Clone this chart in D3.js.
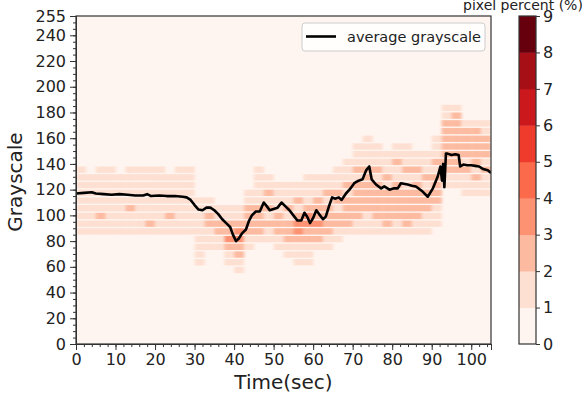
<!DOCTYPE html>
<html lang="en">
<head>
<meta charset="utf-8">
<title>Average grayscale over time</title>
<script src="https://d3js.org/d3.v7.min.js"></script>
<style>
  body { margin: 0; background: #fff; }
  svg text { font-family: "DejaVu Sans", sans-serif; fill: #222; }
  .axis path, .axis line { stroke: #333; }
  .axis text { font-size: 16px; }
</style>
</head>
<body>
<svg width="582" height="394" id="chart"></svg>
<script>

// black line: average grayscale of the frame at each time (sec)
var lineTime = [0,2,4,5,7,9,11,13,15,17,18,19,21,23,25,27,28,29,30,31,32,33,34,35,36,37,38,39,39.7,40.5,41.2,42,43,43.8,44.5,45.5,46.5,47.5,48.3,49,50,51,52,53,54,55,56,57,57.8,58.5,59.2,60,60.8,61.5,62.5,63.2,64,64.8,65.5,66.5,67.2,68.3,69.2,70.4,71.5,72.5,73.4,74.2,74.8,75.9,77.2,78,79.3,80.5,81.4,82.2,83.9,85,86,87.7,89,90.3,91.5,92.2,92.6,92.9,93.2,93.6,94,95,96,96.8,97.2,98,99,100,101,102,103,104.2,105];
var lineGray = [117,117.5,118,117,116.5,116,116.5,116,115.5,115.5,116.5,115,115.5,115,115,114.5,114,112,108,104.5,104,106,106,104,101,97,94,91,85,80,82,86,89,96,100,103,103,110,107,104,105,106,110,107,104,100,96,96,102,99,94,98,104,101,97,99,107,114,113,114,112,117,120,125,127,128,135,138,128,124,121,122.5,120,121,121,125,124,123,122.5,118.5,114.5,121,130,138,127,140,122,148,148,147,147.5,147,138,139.5,139,139,138.5,138,136,135,133];

// heatmap: one string per 2.5 s time bin, one digit per 6-level gray bin
// (top bin first), digit = pixel percent level (0..8)
var binSec = 2.5;
var grayBins = [180,174,168,162,156,150,144,138,132,126,120,114,108,102,96,90,84,78,72,66,60,54];
var heatCols = [
  "0000000011111111100000",
  "0000000001111111100000",
  "0000000011111121100000",
  "0000000011111111100000",
  "0000000001111111100000",
  "0000000011111211100000",
  "0000000011111111100000",
  "0000000011111112100000",
  "0000000011111111100000",
  "0000000001111121100000",
  "0000000011111111100000",
  "0000000011111111100000",
  "0000000000001111111110",
  "0000000000001122111000",
  "0000000000000112211000",
  "0000000000000112232110",
  "0000000000000112332211",
  "0000000000011222211000",
  "0000000011111222210000",
  "0000000001121212110000",
  "0000000000111122211000",
  "0000000000111212221100",
  "0000000000112123321110",
  "0000000001111233221110",
  "0000000001112223221000",
  "0000000001121222211000",
  "0000000011122122110000",
  "0000000111212222100000",
  "0000011121222221100000",
  "0000111122222211100000",
  "0000011121222221100000",
  "0000001112122222100000",
  "0000011211222221100000",
  "0000011121122222100000",
  "0000001121222221100000",
  "0000001112122211100000",
  "0000111212222111000000",
  "1122222221100000000000",
  "1222222221100000000000",
  "0012222121110000000000",
  "0012222212110000000000",
  "0011222121110000000000"
];

var xTicks = [0,10,20,30,40,50,60,70,80,90,100];
var yTicks = [0,20,40,60,80,100,120,140,160,180,200,220,240,255];
var cbarTicks = [0,1,2,3,4,5,6,7,8,9];

var svg = d3.select("svg#chart");

var x = d3.scaleLinear().domain([0, 105]).range([76, 491]);
var y = d3.scaleLinear().domain([0, 255]).range([344, 16]);
var color = d3.scaleOrdinal().domain(d3.range(9)).range(d3.schemeReds[9]);

svg.append("rect").attr("width", 582).attr("height", 394).attr("fill", "#fff");

svg.append("clipPath").attr("id", "plotclip")
  .append("rect")
    .attr("x", x(0)).attr("y", y(255))
    .attr("width", x(105) - x(0)).attr("height", y(0) - y(255));

svg.append("filter").attr("id", "soft")
  .append("feGaussianBlur").attr("stdDeviation", "1.4 0.3");

// background = lowest level
svg.append("rect")
  .attr("x", x(0)).attr("y", y(255))
  .attr("width", x(105) - x(0)).attr("height", y(0) - y(255))
  .attr("fill", color(0));

var cells = [];
heatCols.forEach(function(col, i) {
  col.split("").forEach(function(ch, j) {
    var lv = +ch;
    if (lv > 0) cells.push({ t: i * binSec, g: grayBins[j], lv: lv });
  });
});

svg.append("g")
    .attr("clip-path", "url(#plotclip)")
  .append("g")
    .attr("filter", "url(#soft)")
  .selectAll("rect")
  .data(cells)
  .enter().append("rect")
    .attr("x", function(d) { return x(d.t); })
    .attr("width", function(d) { return x(d.t + binSec) - x(d.t) + 0.3; })
    .attr("y", function(d) { return y(d.g + 6); })
    .attr("height", function(d) { return y(d.g) - y(d.g + 6) - 1.4; })
    .attr("fill", function(d) { return color(d.lv); });

var line = d3.line()
    .x(function(d, i) { return x(lineTime[i]); })
    .y(function(d) { return y(d); });

svg.append("path")
    .attr("clip-path", "url(#plotclip)")
    .attr("d", line(lineGray))
    .attr("fill", "none")
    .attr("stroke", "#000")
    .attr("stroke-width", 2.6)
    .attr("stroke-linejoin", "round");

// axes, with minor ticks
svg.append("g").attr("class", "axis")
    .attr("transform", "translate(0," + y(0) + ")")
    .call(d3.axisBottom(x).tickValues(d3.range(0, 105.1, 2)).tickSize(3).tickFormat(""));
svg.append("g").attr("class", "axis")
    .attr("transform", "translate(0," + y(0) + ")")
    .call(d3.axisBottom(x).tickValues(xTicks).tickSize(6).tickPadding(4));
svg.append("g").attr("class", "axis")
    .attr("transform", "translate(" + x(0) + ",0)")
    .call(d3.axisLeft(y).tickValues(d3.range(0, 256, 5)).tickSize(3).tickFormat(""));
svg.append("g").attr("class", "axis")
    .attr("transform", "translate(" + x(0) + ",0)")
    .call(d3.axisLeft(y).tickValues(yTicks).tickSize(6).tickPadding(4));

svg.append("rect")
  .attr("x", x(0)).attr("y", y(255))
  .attr("width", x(105) - x(0)).attr("height", y(0) - y(255))
  .attr("fill", "none").attr("stroke", "#333").attr("stroke-width", 1.2);

svg.append("text")
  .attr("x", (x(0) + x(105)) / 2).attr("y", 389)
  .attr("text-anchor", "middle").style("font-size", "20px")
  .text("Time(sec)");

svg.append("text")
  .attr("transform", "translate(22," + ((y(0) + y(255)) / 2 + 2) + ") rotate(-90)")
  .attr("text-anchor", "middle").style("font-size", "20px")
  .text("Grayscale");

// legend
var legend = svg.append("g");
legend.append("rect")
  .attr("x", 302).attr("y", 23).attr("width", 183).attr("height", 28).attr("rx", 3)
  .attr("fill", "#fff").attr("fill-opacity", 0.85).attr("stroke", "#ccc");
legend.append("line")
  .attr("x1", 306).attr("x2", 336).attr("y1", 36.5).attr("y2", 36.5)
  .attr("stroke", "#000").attr("stroke-width", 2.6);
legend.append("text")
  .attr("x", 347).attr("y", 41.5).style("font-size", "14.5px")
  .text("average grayscale");

// colorbar
var cy = d3.scaleLinear().domain([0, 9]).range([344, 16]);
svg.append("g").selectAll("rect")
  .data(d3.range(9))
  .enter().append("rect")
    .attr("x", 519).attr("width", 17)
    .attr("y", function(d) { return cy(d + 1); })
    .attr("height", function(d) { return cy(d) - cy(d + 1) + 0.4; })
    .attr("fill", function(d) { return color(d); });
svg.append("rect")
  .attr("x", 519).attr("y", 16).attr("width", 17).attr("height", 328)
  .attr("fill", "none").attr("stroke", "#333").attr("stroke-width", 1.2);
svg.append("g").attr("class", "axis")
    .attr("transform", "translate(536,0)")
    .call(d3.axisRight(cy).tickValues(cbarTicks).tickSize(4).tickPadding(3))
    .call(function(g) { g.select(".domain").remove(); });

svg.append("text")
  .attr("x", 463).attr("y", 9.5).style("font-size", "14px")
  .text("pixel percent (%)");

</script>
</body>
</html>
